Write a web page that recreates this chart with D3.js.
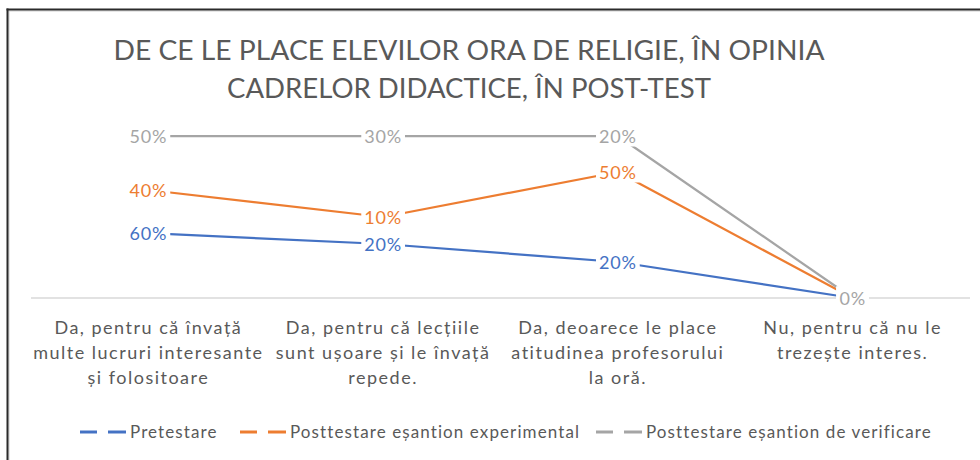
<!DOCTYPE html>
<html><head><meta charset="utf-8">
<script src="https://cdn.jsdelivr.net/npm/d3@7"></script>
<style>body{margin:0;background:#fff;} svg{display:block;}</style>
</head><body>
<svg id="c" width="980" height="460"></svg>
<script>
const titleLines = ["DE CE LE PLACE ELEVILOR ORA DE RELIGIE, ÎN OPINIA", "CADRELOR DIDACTICE, ÎN POST-TEST"];
const categories = [
  ["Da, pentru că învață", "multe lucruri interesante", "și folositoare"],
  ["Da, pentru că lecțiile", "sunt ușoare și le învață", "repede."],
  ["Da, deoarece le place", "atitudinea profesorului", "la oră."],
  ["Nu, pentru că nu le", "trezește interes."]
];
const seriesNames = ["Pretestare", "Posttestare eșantion experimental", "Posttestare eșantion de verificare"];
const pretestare = [60, 20, 20, 0];
const experimental = [40, 10, 50, 0];
const verificare = [50, 30, 20, 0];
const colors = ["#4472C4", "#ED7D31", "#A5A5A5"];

const svg = d3.select("#c");
const font = "Lato, 'Open Sans', sans-serif";

// frame
svg.append("line").attr("x1",7.5).attr("x2",980).attr("y1",11).attr("y2",11).attr("stroke","#d0d0d0").attr("stroke-width",1);
svg.append("line").attr("x1",9).attr("x2",9).attr("y1",10).attr("y2",460).attr("stroke","#d0d0d0").attr("stroke-width",1);
svg.append("line").attr("x1",6.5).attr("x2",980).attr("y1",9.5).attr("y2",9.5).attr("stroke","#2b2b2b").attr("stroke-width",2);
svg.append("line").attr("x1",7.5).attr("x2",7.5).attr("y1",8.5).attr("y2",460).attr("stroke","#2b2b2b").attr("stroke-width",2);

// title
const titleW = [711, 484];
svg.append("g").selectAll("text").data(titleLines).join("text")
  .attr("x", 469).attr("y", (d,i)=>60 + i*38)
  .attr("text-anchor","middle").attr("fill","#595959")
  .style("font-family", font).style("font-size","27px")
  .attr("textLength",(d,i)=>titleW[i]).attr("lengthAdjust","spacingAndGlyphs")
  .text(d=>d);

// scales
const x = d3.scaleBand().domain(d3.range(categories.length)).range([31, 970]);
const cx = i => x(i) + x.bandwidth()/2;
const y = d3.scaleLinear().domain([0,1]).range([298, 136]);

const table = categories.map((c,i)=>({i, a: pretestare[i], b: experimental[i], c: verificare[i]}));
const stacked = d3.stack().keys(["a","b","c"]).offset(d3.stackOffsetExpand)(table);
const raw = [pretestare, experimental, verificare];

// axis baseline
svg.append("line").attr("x1",31).attr("x2",970).attr("y1",y(0)).attr("y2",y(0))
  .attr("stroke","#D9D9D9").attr("stroke-width",1.5);

// lines
const line = d3.line().x((d,i)=>cx(i)).y(d=>y(d[1]));
svg.append("g").selectAll("path").data(stacked).join("path")
  .attr("d", d=>line(d)).attr("fill","none")
  .attr("stroke",(d,k)=>colors[k]).attr("stroke-width",2.25).attr("stroke-linejoin","round");

// data labels
const lg = svg.append("g");
stacked.forEach((s,k)=>{
  s.forEach((d,i)=>{
    const g = lg.append("g");
    const t = g.append("text").attr("x",cx(i)).attr("y",y(d[1])+6.5)
      .attr("text-anchor","middle").attr("fill",colors[k])
      .style("font-family",font).style("font-size","18px").style("letter-spacing","0.8px")
      .text(raw[k][i] + "%");
    const bb = t.node().getBBox();
    g.insert("rect","text").attr("x",bb.x-3).attr("y",bb.y).attr("width",bb.width+6).attr("height",bb.height).attr("fill","#fff");
    if (raw.every(r=>r[i]===0) && k<2) t.attr("fill-opacity",0.5);
  });
});

// category labels
const cg = svg.append("g");
categories.forEach((lines,i)=>{
  lines.forEach((ln,j)=>{
    cg.append("text").attr("x",cx(i)).attr("y",334 + j*25)
      .attr("text-anchor","middle").attr("fill","#595959")
      .style("font-family",font).style("font-size","18px").style("letter-spacing","1.5px")
      .text(ln);
  });
});

// legend
const legX = [80, 240, 596];
const leg = svg.append("g");
seriesNames.forEach((n,k)=>{
  const g = leg.append("g").attr("transform",`translate(${legX[k]},432)`);
  g.append("line").attr("x1",0).attr("x2",17).attr("stroke",colors[k]).attr("stroke-width",3);
  g.append("line").attr("x1",28).attr("x2",46).attr("stroke",colors[k]).attr("stroke-width",3);
  g.append("text").attr("x",50).attr("y",6).attr("fill","#595959")
    .style("font-family",font).style("font-size","17px").style("letter-spacing","1.1px").text(n);
});
</script>
</body></html>
